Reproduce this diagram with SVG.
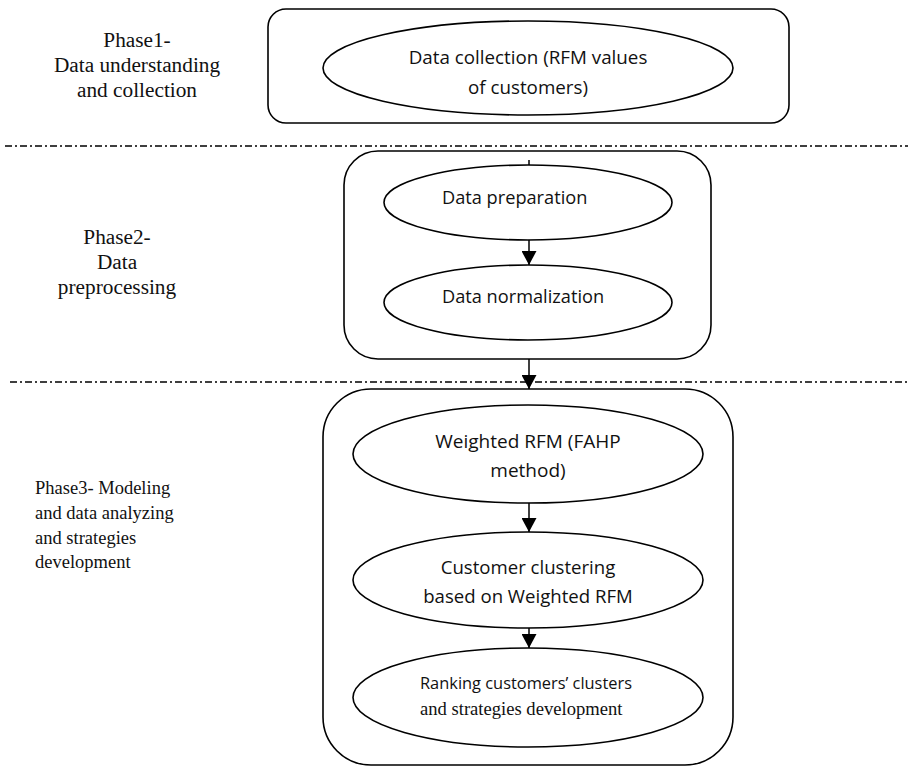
<svg xmlns="http://www.w3.org/2000/svg" width="908" height="767" viewBox="0 0 908 767">
<style>
.box{fill:none;stroke:#000;stroke-width:1.6}
.ell{fill:#fff;stroke:#000;stroke-width:1.6}
.sep{stroke:#000;stroke-width:1.5;stroke-dasharray:7 3 2 3;fill:none}
.con{stroke:#000;stroke-width:1.5;fill:none}
.sans{font-family:"Open Sans","Liberation Sans",sans-serif;fill:#111}
.serif{font-family:"Liberation Serif","Times New Roman",serif;fill:#111}
</style>
<defs>
<marker id="ah" viewBox="0 0 14 15" refX="14" refY="7.5" markerWidth="15" markerHeight="15" markerUnits="userSpaceOnUse" orient="auto">
<path d="M0,0 L14,7.5 L0,15 Z" fill="#000"/>
</marker>
</defs>
<rect width="908" height="767" fill="#fff"/>

<g id="separators">
<line class="sep" x1="5" y1="146" x2="908" y2="146"/>
<line class="sep" x1="10" y1="382" x2="908" y2="382"/>
</g>

<g id="phase-labels">
<text class="serif" font-size="21.3" text-anchor="middle"><tspan x="137" y="47">Phase1-</tspan><tspan x="137" y="72">Data understanding</tspan><tspan x="137" y="97">and collection</tspan></text>
<text class="serif" font-size="21.3" text-anchor="middle"><tspan x="117" y="244">Phase2-</tspan><tspan x="117" y="269">Data</tspan><tspan x="117" y="294">preprocessing</tspan></text>
<text class="serif" font-size="18.5"><tspan x="35" y="494">Phase3- Modeling</tspan><tspan x="35" y="519">and data analyzing</tspan><tspan x="35" y="544">and strategies</tspan><tspan x="35" y="568">development</tspan></text>
</g>

<g id="phase1">
<rect class="box" x="268" y="9" width="521" height="114" rx="18"/>
</g>
<g id="phase2">
<rect class="box" x="344" y="151" width="367" height="208" rx="34"/>
</g>
<g id="phase3">
<rect class="box" x="323" y="389" width="410" height="376" rx="48"/>
</g>

<g id="connectors">
<line class="con" x1="529" y1="160" x2="529" y2="165"/>
<line class="con" x1="529" y1="240" x2="529" y2="265" marker-end="url(#ah)"/>
<line class="con" x1="529" y1="359" x2="529" y2="389" marker-end="url(#ah)"/>
<line class="con" x1="529" y1="503" x2="529" y2="532" marker-end="url(#ah)"/>
<line class="con" x1="529" y1="628" x2="529" y2="648" marker-end="url(#ah)"/>
</g>

<g id="data-collection">
<ellipse class="ell" cx="528" cy="68" rx="205" ry="47"/>
<text class="sans" font-size="18.8" text-anchor="middle"><tspan x="528" y="64">Data collection (RFM values</tspan><tspan x="528" y="94">of customers)</tspan></text>
</g>

<g id="data-preparation">
<ellipse class="ell" cx="528" cy="202.5" rx="144" ry="37.5"/>
<text class="sans" font-size="18.2" x="442" y="204">Data preparation</text>
</g>

<g id="data-normalization">
<ellipse class="ell" cx="528" cy="302.5" rx="144" ry="37.5"/>
<text class="sans" font-size="18.2" x="442" y="303">Data normalization</text>
</g>

<g id="weighted-rfm">
<ellipse class="ell" cx="528" cy="454" rx="175" ry="49"/>
<text class="sans" font-size="19" text-anchor="middle"><tspan x="528" y="448">Weighted RFM (FAHP</tspan><tspan x="528" y="477">method)</tspan></text>
</g>

<g id="customer-clustering">
<ellipse class="ell" cx="528" cy="580" rx="175" ry="48"/>
<text class="sans" font-size="18.6" text-anchor="middle"><tspan x="528" y="574">Customer clustering</tspan><tspan x="528" y="603">based on Weighted RFM</tspan></text>
</g>

<g id="ranking">
<ellipse class="ell" cx="528" cy="697.5" rx="175" ry="49.5"/>
<text class="sans" font-size="16.4" x="420" y="689">Ranking customers’ clusters</text>
<text class="serif" font-size="18.6" x="420" y="715">and strategies development</text>
</g>
</svg>
